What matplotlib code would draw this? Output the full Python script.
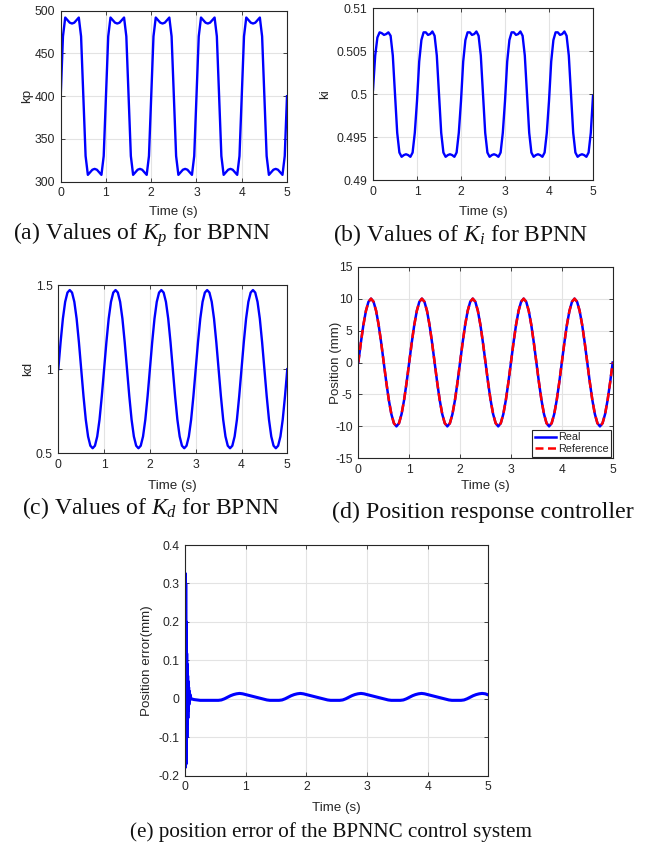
import numpy as np
import matplotlib

matplotlib.use("Agg")
import matplotlib.pyplot as plt

# sample grid shared by the gain / position traces (0.05 s)
TIME = np.linspace(0, 5, 101)

KP = [
    400, 470, 492, 489, 486, 485, 486, 489, 492, 470, 400, 330, 308, 311, 314, 315, 314, 311, 308, 330,
    400, 470, 492, 489, 486, 485, 486, 489, 492, 470, 400, 330, 308, 311, 314, 315, 314, 311, 308, 330,
    400, 470, 492, 489, 486, 485, 486, 489, 492, 470, 400, 330, 308, 311, 314, 315, 314, 311, 308, 330,
    400, 470, 492, 489, 486, 485, 486, 489, 492, 470, 400, 330, 308, 311, 314, 315, 314, 311, 308, 330,
    400, 470, 492, 489, 486, 485, 486, 489, 492, 470, 400, 330, 308, 311, 314, 315, 314, 311, 308, 330,
    400,
]

KI = [
    0.5005, 0.5045, 0.5066, 0.5072, 0.5071, 0.5069, 0.5070, 0.5072, 0.5068, 0.5045,
    0.5000, 0.4955, 0.4932, 0.4927, 0.4929, 0.4930, 0.4929, 0.4927, 0.4932, 0.4955,
    0.4992, 0.5038, 0.5063, 0.5072, 0.5072, 0.5069, 0.5070, 0.5073, 0.5068, 0.5045,
    0.5000, 0.4955, 0.4932, 0.4927, 0.4929, 0.4930, 0.4929, 0.4927, 0.4932, 0.4955,
    0.4992, 0.5038, 0.5063, 0.5072, 0.5072, 0.5069, 0.5070, 0.5073, 0.5068, 0.5045,
    0.5000, 0.4955, 0.4932, 0.4927, 0.4929, 0.4930, 0.4929, 0.4927, 0.4932, 0.4955,
    0.4992, 0.5038, 0.5063, 0.5072, 0.5072, 0.5069, 0.5070, 0.5073, 0.5068, 0.5045,
    0.5000, 0.4955, 0.4932, 0.4927, 0.4929, 0.4930, 0.4929, 0.4927, 0.4932, 0.4955,
    0.4992, 0.5038, 0.5063, 0.5072, 0.5072, 0.5069, 0.5070, 0.5073, 0.5068, 0.5045,
    0.5000, 0.4955, 0.4932, 0.4927, 0.4929, 0.4930, 0.4929, 0.4927, 0.4932, 0.4955,
    0.4998,
]

KD = [
    1.00, 1.16, 1.30, 1.40, 1.455, 1.47, 1.455, 1.40, 1.30, 1.16, 1.00, 0.84, 0.70, 0.60, 0.545, 0.53, 0.545, 0.60, 0.70, 0.84,
    1.00, 1.16, 1.30, 1.40, 1.455, 1.47, 1.455, 1.40, 1.30, 1.16, 1.00, 0.84, 0.70, 0.60, 0.545, 0.53, 0.545, 0.60, 0.70, 0.84,
    1.00, 1.16, 1.30, 1.40, 1.455, 1.47, 1.455, 1.40, 1.30, 1.16, 1.00, 0.84, 0.70, 0.60, 0.545, 0.53, 0.545, 0.60, 0.70, 0.84,
    1.00, 1.16, 1.30, 1.40, 1.455, 1.47, 1.455, 1.40, 1.30, 1.16, 1.00, 0.84, 0.70, 0.60, 0.545, 0.53, 0.545, 0.60, 0.70, 0.84,
    1.00, 1.16, 1.30, 1.40, 1.455, 1.47, 1.455, 1.40, 1.30, 1.16, 1.00, 0.84, 0.70, 0.60, 0.545, 0.53, 0.545, 0.60, 0.70, 0.84,
    1.00,
]

POS_REAL = [
    0, 3.09, 5.88, 8.09, 9.51, 10, 9.51, 8.09, 5.88, 3.09, 0, -3.09, -5.88, -8.09, -9.51, -10, -9.51, -8.09, -5.88, -3.09,
    0, 3.09, 5.88, 8.09, 9.51, 10, 9.51, 8.09, 5.88, 3.09, 0, -3.09, -5.88, -8.09, -9.51, -10, -9.51, -8.09, -5.88, -3.09,
    0, 3.09, 5.88, 8.09, 9.51, 10, 9.51, 8.09, 5.88, 3.09, 0, -3.09, -5.88, -8.09, -9.51, -10, -9.51, -8.09, -5.88, -3.09,
    0, 3.09, 5.88, 8.09, 9.51, 10, 9.51, 8.09, 5.88, 3.09, 0, -3.09, -5.88, -8.09, -9.51, -10, -9.51, -8.09, -5.88, -3.09,
    0, 3.09, 5.88, 8.09, 9.51, 10, 9.51, 8.09, 5.88, 3.09, 0, -3.09, -5.88, -8.09, -9.51, -10, -9.51, -8.09, -5.88, -3.09,
    0,
]
# the reference trajectory is indistinguishable from the real one at this scale
POS_REF = list(POS_REAL)

# position error: dense samples over the start-up transient, then 0.05 s
ERR_T_START = [0, 0.004, 0.008, 0.012, 0.016, 0.02, 0.024, 0.028, 0.032, 0.036, 0.04,
               0.044, 0.048, 0.052, 0.056, 0.06, 0.065, 0.07, 0.075, 0.08, 0.09]
ERR_START = [0.0, 0.326, -0.178, 0.30, -0.17, 0.20, -0.12, 0.118, -0.10, 0.09, -0.064,
             0.06, -0.05, 0.045, -0.03, 0.03, -0.015, 0.02, -0.005, 0.012, 0.006]
ERR_T_REST = np.linspace(0.1, 5, 99)
ERR_REST = [
    0.000, -0.002, -0.003, -0.004, -0.004, -0.004, -0.004, -0.004, -0.004, -0.004,
    -0.003, 0.000, 0.004, 0.008, 0.011, 0.013, 0.014, 0.013,
    0.011, 0.009, 0.007, 0.005, 0.003, 0.001, -0.001, -0.003, -0.004, -0.004,
    -0.004, -0.004, -0.003, 0.000, 0.004, 0.008, 0.011, 0.013, 0.014, 0.013,
    0.011, 0.009, 0.007, 0.005, 0.003, 0.001, -0.001, -0.003, -0.004, -0.004,
    -0.004, -0.004, -0.003, 0.000, 0.004, 0.008, 0.011, 0.013, 0.014, 0.013,
    0.011, 0.009, 0.007, 0.005, 0.003, 0.001, -0.001, -0.003, -0.004, -0.004,
    -0.004, -0.004, -0.003, 0.000, 0.004, 0.008, 0.011, 0.013, 0.014, 0.013,
    0.011, 0.009, 0.007, 0.005, 0.003, 0.001, -0.001, -0.003, -0.004, -0.004,
    -0.004, -0.004, -0.003, 0.000, 0.004, 0.008, 0.011, 0.013, 0.014, 0.013,
    0.010,
]

BLUE = "#0000ff"
RED = "#ff0000"
GRID = "#e3e3e3"
INK = "#262626"

plt.rcParams.update({
    "font.family": ["Liberation Sans", "DejaVu Sans"],
    "font.size": 8.5,
    "axes.unicode_minus": False,
    "mathtext.fontset": "custom",
    "mathtext.rm": "Liberation Serif",
    "mathtext.it": "Liberation Serif:italic",
    "xtick.direction": "in",
    "ytick.direction": "in",
    "xtick.top": True,
    "ytick.right": True,
})

W, H = 662, 848


def px_axes(fig, x0, y0, x1, y1):
    # axes from pixel box (top-left origin)
    return fig.add_axes([x0 / W, 1 - y1 / H, (x1 - x0) / W, (y1 - y0) / H])


def style(ax, ylim, yticks, ylabels, ylabel, ylab_x, xlab_y):
    ax.set_xlim(0, 5)
    ax.set_xticks(range(6))
    ax.set_ylim(*ylim)
    ax.set_yticks(yticks)
    ax.set_yticklabels(ylabels)
    ax.grid(True, color=GRID, linewidth=0.8)
    ax.set_axisbelow(True)
    ax.tick_params(length=3, width=0.6, colors=INK, labelcolor=INK, pad=4, labelsize=8.7)
    for sp in ax.spines.values():
        sp.set_color(INK)
        sp.set_linewidth(0.8)
    ax.set_xlabel("Time (s)", fontsize=9.6, color=INK, va="center")
    ax.set_ylabel(ylabel, fontsize=9.6, color=INK, va="center")
    ax.xaxis.set_label_coords(0.5, xlab_y)
    ax.yaxis.set_label_coords(ylab_x, 0.5)


fig = plt.figure(figsize=(W / 100, H / 100), dpi=100)

# (a) kp
ax = px_axes(fig, 60.7, 10.7, 287, 181.7)
ax.plot(TIME, KP, color=BLUE, lw=1.7)
style(ax, (300, 500), [300, 350, 400, 450, 500], ["300", "350", "400", "450", "500"], "kp", -0.149, -0.175)

# (b) ki
ax = px_axes(fig, 373, 8.3, 593, 180)
ax.plot(TIME, KI, color=BLUE, lw=1.7)
style(ax, (0.49, 0.51), [0.49, 0.495, 0.5, 0.505, 0.51],
      ["0.49", "0.495", "0.5", "0.505", "0.51"], "ki", -0.218, -0.185)

# (c) kd
ax = px_axes(fig, 58.3, 285, 287.3, 453.3)
ax.plot(TIME, KD, color=BLUE, lw=1.7)
style(ax, (0.5, 1.5), [0.5, 1, 1.5], ["0.5", "1", "1.5"], "kd", -0.131, -0.194)

# (d) position
ax = px_axes(fig, 358.3, 266.7, 612.7, 458.3)
ax.plot(TIME, POS_REAL, color=BLUE, lw=1.8, label="Real")
ax.plot(TIME, POS_REF, color=RED, lw=1.8, ls=(0, (3.2, 1.8)), label="Reference")
style(ax, (-15, 15), list(range(-15, 16, 5)), [str(v) for v in range(-15, 16, 5)],
      "Position (mm)", -0.088, -0.145)
leg = ax.legend(loc="lower right", bbox_to_anchor=(1, 0), borderaxespad=0.15, fontsize=7.8,
                handlelength=1.9, handletextpad=0.2, borderpad=0.25, labelspacing=0.15,
                fancybox=False, framealpha=1)
leg.get_frame().set_edgecolor(INK)
leg.get_frame().set_linewidth(0.8)
for t in leg.get_texts():
    t.set_color(INK)

# (e) position error
ax = px_axes(fig, 185, 545, 488.3, 775.7)
ax.plot(ERR_T_START + list(ERR_T_REST), ERR_START + ERR_REST, color=BLUE, lw=2.2)
style(ax, (-0.2, 0.4), [-0.2, -0.1, 0, 0.1, 0.2, 0.3, 0.4],
      ["-0.2", "-0.1", "0", "0.1", "0.2", "0.3", "0.4"], "Position error(mm)", -0.124, -0.141)

captions = [
    (141.7, 235, r"(a) Values of $K_p$ for BPNN", 17.0),
    (460.5, 235, r"(b) Values of $K_i$ for BPNN", 17.0),
    (151, 508.3, r"(c) Values of $K_d$ for BPNN", 17.0),
    (483.3, 512.7, "(d) Position response controller", 17.3),
    (331, 832, "(e) position error of the BPNNC control system", 15.2),
]
for cx, cy, txt, fs in captions:
    fig.text(cx / W, 1 - cy / H, txt, ha="center", va="center", fontsize=fs,
             family="Liberation Serif", color="#111111")

fig.savefig("out.png", dpi=100, facecolor="white")
